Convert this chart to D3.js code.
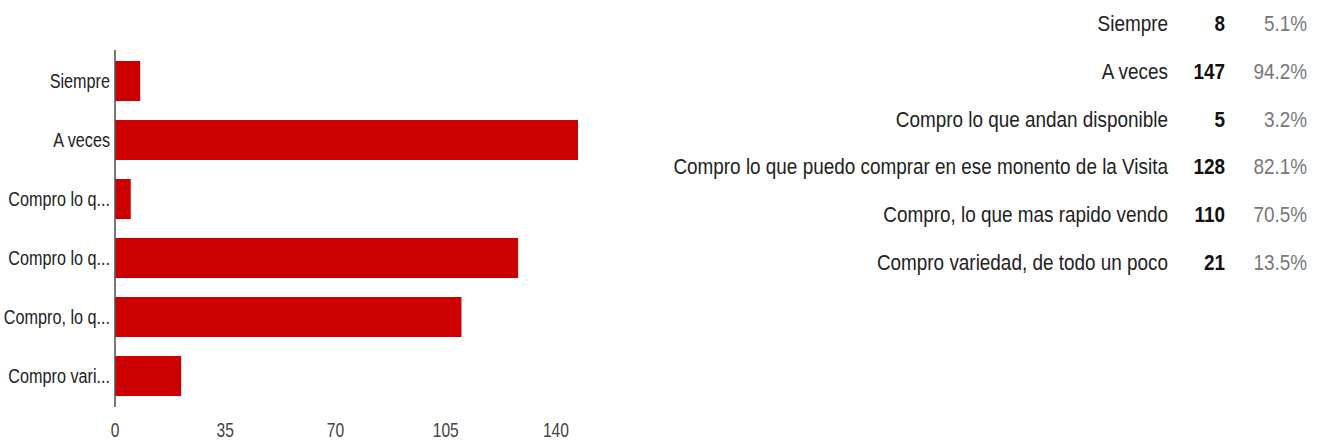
<!DOCTYPE html>
<html>
<head>
<meta charset="utf-8">
<script src="https://cdn.jsdelivr.net/npm/d3@7"></script>
<style>
  html, body { margin: 0; padding: 0; background: #fff; }
  svg { display: block; }
  text { font-family: "Liberation Sans", Arial, sans-serif; }
</style>
</head>
<body>
<svg id="chart" width="1325" height="443"></svg>
<script>
const categories = [
  "Siempre",
  "A veces",
  "Compro lo que andan disponible",
  "Compro lo que puedo comprar en ese monento de la Visita",
  "Compro, lo que mas rapido vendo",
  "Compro variedad, de todo un poco"
];
const shortLabels = ["Siempre", "A veces", "Compro lo q...", "Compro lo q...", "Compro, lo q...", "Compro vari..."];
const counts = [8, 147, 5, 128, 110, 21];
const percents = ["5.1%", "94.2%", "3.2%", "82.1%", "70.5%", "13.5%"];
const xTicks = [0, 35, 70, 105, 140];

const svg = d3.select("#chart");

const x = d3.scaleLinear().domain([0, 147]).range([115, 578]);
const y = d3.scaleBand().domain(categories).range([50, 407]).paddingInner(0.322).paddingOuter(0.186);

// bars
svg.append("g").selectAll("rect")
  .data(categories)
  .join("rect")
  .attr("x", x(0))
  .attr("y", d => y(d))
  .attr("width", (d, i) => x(counts[i]) - x(0))
  .attr("height", y.bandwidth())
  .attr("fill", "#cc0000");

// axis line
svg.append("line")
  .attr("x1", x(0)).attr("x2", x(0))
  .attr("y1", y.range()[0]).attr("y2", y.range()[1])
  .attr("stroke", "#555").attr("stroke-width", 1.6);

const leftSX = 0.81;
// category labels
svg.append("g").selectAll("text")
  .data(categories)
  .join("text")
  .attr("transform", d => `translate(110,${y(d) + y.bandwidth() / 2}) scale(${leftSX},1)`)
  .attr("text-anchor", "end")
  .attr("dominant-baseline", "central")
  .attr("font-size", 20)
  .attr("fill", "#222")
  .text((d, i) => shortLabels[i]);

// x tick labels
svg.append("g").selectAll("text")
  .data(xTicks)
  .join("text")
  .attr("transform", d => `translate(${x(d)},437) scale(0.78,1)`)
  .attr("text-anchor", "middle")
  .attr("font-size", 20)
  .attr("fill", "#444")
  .text(d => d);

// right table
const rightSX = 0.86;
const rowBase = d3.scalePoint().domain(categories).range([31, 270]);
const tbl = svg.append("g");
tbl.selectAll("text.lbl")
  .data(categories)
  .join("text")
  .attr("class", "lbl")
  .attr("transform", d => `translate(1168,${rowBase(d)}) scale(${rightSX},1)`)
  .attr("text-anchor", "end")
  .attr("font-size", 22)
  .attr("fill", "#222")
  .text(d => d);
tbl.selectAll("text.cnt")
  .data(categories)
  .join("text")
  .attr("class", "cnt")
  .attr("transform", d => `translate(1225,${rowBase(d)}) scale(${rightSX},1)`)
  .attr("text-anchor", "end")
  .attr("font-size", 22)
  .attr("font-weight", "bold")
  .attr("fill", "#111")
  .text((d, i) => counts[i]);
tbl.selectAll("text.pct")
  .data(categories)
  .join("text")
  .attr("class", "pct")
  .attr("transform", d => `translate(1307,${rowBase(d)}) scale(${rightSX},1)`)
  .attr("text-anchor", "end")
  .attr("font-size", 22)
  .attr("fill", "#777")
  .text((d, i) => percents[i]);
</script>
</body>
</html>
